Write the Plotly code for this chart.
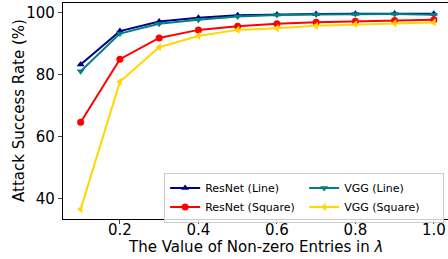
import plotly.graph_objects as go

x_vals = [0.1, 0.2, 0.3, 0.4, 0.5, 0.6, 0.7, 0.8, 0.9, 1.0]
resnet_line = [83.3, 94.1, 97.2, 98.4, 99.2, 99.5, 99.6, 99.7, 99.8, 99.7]
vgg_line = [81.1, 93.3, 96.5, 97.8, 98.8, 99.3, 99.5, 99.6, 99.6, 99.4]
resnet_square = [64.6, 85.0, 91.9, 94.5, 95.7, 96.5, 97.0, 97.3, 97.5, 97.8]
vgg_square = [36.5, 77.7, 88.9, 92.5, 94.5, 95.0, 95.8, 96.3, 96.6, 96.9]

series = [
    ("ResNet (Line)", resnet_line, "#00008B", "triangle-up"),
    ("VGG (Line)", vgg_line, "#008080", "triangle-down"),
    ("ResNet (Square)", resnet_square, "#FF0000", "circle"),
    ("VGG (Square)", vgg_square, "#FFD700", "triangle-left"),
]

fig = go.Figure()
for name, ys, color, sym in series:
    fig.add_trace(go.Scatter(
        x=x_vals, y=ys, name=name, mode="lines+markers",
        line=dict(color=color, width=2),
        marker=dict(symbol=sym, size=7, color=color),
    ))

font = "DejaVu Sans"
fig.update_layout(
    width=448, height=259,
    margin=dict(l=63, r=0, t=3, b=40),
    paper_bgcolor="white", plot_bgcolor="white",
    font=dict(family=font, color="black"),
    showlegend=True,
    legend=dict(
        orientation="h", x=0.99, y=0.215, xanchor="right", yanchor="top",
        entrywidth=94, bordercolor="#cccccc", borderwidth=1,
        bgcolor="rgba(255,255,255,0.8)",
        font=dict(family=font, size=11), tracegroupgap=0,
    ),
    xaxis=dict(
        range=[0.055, 1.036], tickvals=[0.2, 0.4, 0.6, 0.8, 1.0],
        ticktext=["0.2", "0.4", "0.6", "0.8", "1.0"],
        showgrid=False, zeroline=False, showline=True, linecolor="black",
        linewidth=1.2, mirror=True, ticks="outside", ticklen=4,
        tickfont=dict(size=15), automargin=False, ticklabelstandoff=-7,
    ),
    yaxis=dict(
        range=[33.3, 103.2], tickvals=[40, 60, 80, 100],
        showgrid=False, zeroline=False, showline=True, linecolor="black",
        linewidth=1.2, ticks="outside", ticklen=4,
        tickfont=dict(size=15), automargin=False,
    ),
    annotations=[
        dict(text="The Value of Non-zero Entries in <i>λ</i>",
             xref="paper", yref="paper", x=0.5, y=0, yshift=-28,
             xanchor="center", yanchor="middle", showarrow=False,
             font=dict(size=15, family=font)),
        dict(text="Attack Success Rate (%)",
             xref="paper", yref="paper", x=0, y=0.5, xshift=-44,
             xanchor="center", yanchor="middle", textangle=-90,
             showarrow=False, font=dict(size=15, family=font)),
    ],
)

fig.write_html("out.html", config={"displayModeBar": False},
               post_script="document.body.style.margin='0';document.body.style.overflow='hidden';")
